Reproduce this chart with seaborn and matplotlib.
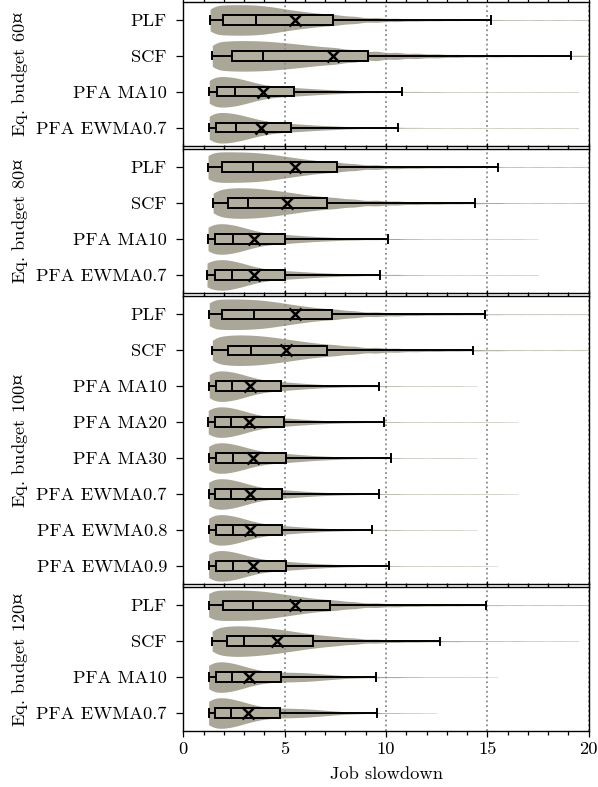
import numpy as np
import pandas as pd
import matplotlib
matplotlib.use("Agg")
import matplotlib.pyplot as plt
import seaborn as sns
from matplotlib.ticker import MultipleLocator

# ---------------- data ----------------
BUDGETS = ["Eq. budget 60$\\mathrm{¤}$", "Eq. budget 80$\\mathrm{¤}$",
           "Eq. budget 100$\\mathrm{¤}$", "Eq. budget 120$\\mathrm{¤}$"]
CATS_SMALL = ["PLF", "SCF", "PFA MA10", "PFA EWMA0.7"]
CATS_100 = ["PLF", "SCF", "PFA MA10", "PFA MA20", "PFA MA30",
            "PFA EWMA0.7", "PFA EWMA0.8", "PFA EWMA0.9"]
PANEL_CATS = [CATS_SMALL, CATS_SMALL, CATS_100, CATS_SMALL]

# box statistics, rows in panel order (60, 80, 100, 120)
WHIS_LO = [1.32, 1.43, 1.28, 1.28,
           1.22, 1.47, 1.22, 1.17,
           1.28, 1.43, 1.28, 1.23, 1.25, 1.25, 1.25, 1.25,
           1.25, 1.42, 1.25, 1.25]
Q1 = [1.97, 2.42, 1.68, 1.60,
      1.90, 2.19, 1.57, 1.55,
      1.89, 2.19, 1.61, 1.58, 1.61, 1.58, 1.60, 1.61,
      1.94, 2.14, 1.60, 1.56]
MEDIAN = [3.59, 3.95, 2.55, 2.58,
          3.42, 3.20, 2.43, 2.41,
          3.49, 3.32, 2.42, 2.34, 2.45, 2.37, 2.44, 2.44,
          3.42, 2.99, 2.39, 2.34]
Q3 = [7.40, 9.13, 5.44, 5.31,
      7.59, 7.10, 5.03, 5.03,
      7.32, 7.11, 4.84, 4.95, 5.07, 4.87, 4.85, 5.07,
      7.24, 6.41, 4.82, 4.79]
WHIS_HI = [15.20, 19.13, 10.79, 10.61,
           15.54, 14.41, 10.10, 9.70,
           14.88, 14.31, 9.65, 9.88, 10.23, 9.67, 9.29, 10.16,
           14.93, 12.68, 9.51, 9.56]
MEAN = [5.53, 7.37, 3.93, 3.82,
        5.51, 5.10, 3.47, 3.47,
        5.51, 5.07, 3.31, 3.26, 3.44, 3.27, 3.27, 3.44,
        5.53, 4.62, 3.25, 3.21]

# violin width profile (relative job density) read at these slowdown values;
# the first point of every profile sits at that row's minimum (WHIS_LO)
VIOLIN_X = [1.75, 2.25, 2.75, 3.25, 3.75, 4.25, 4.75, 5.25, 5.75, 6.25, 6.75,
            7.25, 7.75, 8.5, 9.5, 10.5, 11.5, 12.5, 13.5, 14.5, 15.5, 16.5,
            17.5, 18.5, 19.5, 20.5, 21.5]
VIOLIN_W = [
    # budget 60
    [95, 100, 100, 100, 100, 96, 89, 78, 67, 58, 50, 43, 36, 30, 22, 14, 10, 7, 5, 4, 3, 2.5, 2, 2, 2, 2, 2, 2],
    [100, 100, 100, 100, 100, 98, 95, 89, 83, 76, 69, 62, 55, 48, 38, 28, 21, 16, 12, 9, 7, 6, 5, 4.5, 4, 4, 4, 4],
    [95, 100, 97, 85, 68, 50, 38, 32, 29, 25, 21, 17, 13, 10, 7, 5, 3, 2.5, 2, 1.5, 1.5, 1.5, 1.5, 1.5, 1.5, 1.5, 0, 0],
    [95, 100, 96, 84, 67, 50, 38, 31, 27, 23, 19, 15, 12, 9, 6, 4, 3, 2, 1.5, 1.5, 1.5, 1.5, 1.5, 1.5, 1.5, 1.5, 0, 0],
    # budget 80
    [100, 100, 100, 100, 98, 94, 87, 77, 67, 57, 48, 41, 35, 29, 21, 14, 10, 7, 5, 4, 3, 2.5, 2, 2, 2, 2, 2, 2],
    [90, 97, 100, 100, 99, 95, 88, 79, 70, 60, 51, 44, 37, 31, 24, 17, 12, 9, 7, 5, 4, 3, 2, 2, 2, 2, 2, 2],
    [95, 100, 95, 82, 62, 45, 36, 31, 27, 22, 18, 14, 11, 8, 6, 4, 3, 2, 1.5, 1.5, 1.5, 1.5, 1.5, 1, 0, 0, 0, 0],
    [95, 100, 95, 82, 62, 45, 35, 30, 26, 22, 18, 14, 11, 8, 6, 4, 3, 2, 1.5, 1.5, 1.5, 1.5, 1.5, 1.5, 0, 0, 0, 0],
    # budget 100
    [100, 100, 100, 100, 98, 94, 87, 77, 67, 57, 48, 41, 35, 29, 21, 14, 10, 7, 5, 4, 3, 2.5, 2, 2, 2, 2, 2, 2],
    [90, 97, 100, 100, 99, 95, 88, 79, 70, 60, 51, 44, 37, 31, 24, 17, 12, 9, 7, 5, 4, 3, 2, 2, 2, 2, 2, 2],
    [95, 100, 95, 80, 60, 43, 34, 29, 24, 19, 15, 11, 8, 6, 4, 3, 2, 1.5, 1.5, 1.5, 1, 0, 0, 0, 0, 0, 0, 0],
    [95, 100, 95, 80, 60, 43, 34, 29, 24, 19, 15, 11, 8, 6, 4, 3, 2, 1.5, 1.5, 1.5, 1.5, 1.5, 1, 0, 0, 0, 0, 0],
    [95, 100, 95, 80, 61, 45, 36, 31, 27, 22, 17, 13, 10, 7, 5, 3, 2, 1.5, 1.5, 1.5, 1, 0, 0, 0, 0, 0, 0, 0],
    [95, 100, 95, 80, 60, 43, 34, 29, 24, 19, 15, 11, 8, 6, 4, 3, 2, 1.5, 1.5, 1.5, 1.5, 1.5, 1, 0, 0, 0, 0, 0],
    [95, 100, 95, 80, 60, 43, 34, 29, 24, 19, 15, 11, 8, 6, 4, 3, 2, 1.5, 1.5, 1.5, 1, 0, 0, 0, 0, 0, 0, 0],
    [95, 100, 95, 80, 61, 45, 36, 31, 27, 22, 17, 13, 10, 7, 5, 3, 2, 1.5, 1.5, 1.5, 1.5, 1, 0, 0, 0, 0, 0, 0],
    # budget 120
    [100, 100, 100, 100, 98, 94, 87, 77, 67, 57, 48, 41, 35, 29, 21, 14, 10, 7, 5, 4, 3, 2.5, 2, 2, 2, 2, 2, 2],
    [88, 96, 100, 100, 97, 92, 85, 77, 67, 57, 48, 40, 32, 26, 19, 12, 8, 6, 4, 3, 2.5, 2, 2, 1.5, 1.5, 1.5, 0, 0],
    [95, 100, 94, 78, 58, 42, 34, 31, 30, 29, 26, 21, 15, 10, 6, 4, 3, 2, 1.5, 1.5, 1.5, 1, 0, 0, 0, 0, 0, 0],
    [95, 100, 94, 78, 58, 42, 34, 31, 30, 28, 25, 20, 14, 9, 5, 3, 2, 1.5, 1, 0, 0, 0, 0, 0, 0, 0, 0, 0],
]

# ---------------- style ----------------
FONT = ["cmr10", "DejaVu Serif"]
plt.rcParams["font.family"] = FONT
plt.rcParams["mathtext.fontset"] = "custom"
plt.rcParams["mathtext.rm"] = "DejaVu Serif"
plt.rcParams["axes.formatter.use_mathtext"] = False
plt.rcParams["axes.unicode_minus"] = False
FS = 13.3
VIOLIN_C = "#aaa798"
BOX_C = "#b2afa0"
BW = 0.4

# ---------------- build samples ----------------
frames = []
k = 0
for p, cats in enumerate(PANEL_CATS):
    for c in cats:
        xs = np.array([WHIS_LO[k]] + VIOLIN_X)
        w = np.array(VIOLIN_W[k], float)
        d = np.empty_like(xs)
        d[0] = xs[1] - xs[0]
        d[1:-1] = (xs[2:] - xs[:-2]) / 2
        d[-1] = xs[-1] - xs[-2]
        n = np.round(w * d / 0.5 * 4).astype(int)
        frames.append(pd.DataFrame({"panel": p, "cat": c, "slowdown": np.repeat(xs, n)}))
        k += 1
df = pd.concat(frames, ignore_index=True)

# ---------------- figure ----------------
fig = plt.figure(figsize=(5.98, 7.87), dpi=100)
gs = fig.add_gridspec(4, 1, height_ratios=[4, 4, 8, 4], hspace=0.019,
                      left=0.3065, right=0.9845, top=0.9975, bottom=0.0712)
axes = []
k = 0
for p, cats in enumerate(PANEL_CATS):
    ax = fig.add_subplot(gs[p], sharex=axes[0] if axes else None)
    axes.append(ax)
    sub = df[df["panel"] == p]
    sns.violinplot(data=sub, x="slowdown", y="cat", order=cats, orient="y",
                   color=VIOLIN_C, saturation=1, inner=None, cut=0,
                   density_norm="width", width=0.85, linewidth=0,
                   linecolor=VIOLIN_C, gridsize=600,
                   bw_method=lambda kd: BW / np.std(kd.dataset, ddof=1), ax=ax)
    stats = []
    for i in range(len(cats)):
        stats.append(dict(whislo=WHIS_LO[k + i], q1=Q1[k + i], med=MEDIAN[k + i],
                          q3=Q3[k + i], whishi=WHIS_HI[k + i], mean=MEAN[k + i],
                          fliers=[]))
    k += len(cats)
    lw = 1.4
    ax.bxp(stats, positions=list(range(len(cats))), orientation="horizontal",
           widths=0.26, capwidths=0.2, patch_artist=True, showmeans=True,
           showfliers=False, manage_ticks=False,
           boxprops=dict(facecolor=BOX_C, edgecolor="black", linewidth=lw),
           whiskerprops=dict(color="black", linewidth=lw),
           capprops=dict(color="black", linewidth=lw),
           medianprops=dict(color="black", linewidth=lw),
           meanprops=dict(marker="x", markeredgecolor="black",
                          markersize=8, markeredgewidth=1.8))
    ax.set_xlim(0, 20)
    ax.set_ylim(len(cats) - 0.5, -0.5)
    ax.xaxis.set_major_locator(MultipleLocator(5))
    ax.xaxis.set_minor_locator(MultipleLocator(1))
    ax.grid(axis="x", which="major", linestyle=":", color="#8a8a8a", linewidth=1.3)
    ax.tick_params(axis="x", which="both", direction="out", top=True, bottom=True,
                   labelbottom=(p == 3), labelsize=FS, width=0.9)
    ax.tick_params(axis="x", which="major", length=4)
    ax.tick_params(axis="x", which="minor", length=2.8)
    ax.tick_params(axis="y", length=4.8, width=0.9, labelsize=FS, pad=7, right=False)
    for s in ax.spines.values():
        s.set_linewidth(1.0)
    ax.set_ylabel(BUDGETS[p], fontsize=FS)
    ax.yaxis.set_label_coords(-0.378, 0.5)
    if p == 3:
        ax.set_xlabel("Job slowdown", fontsize=FS, labelpad=7)
    else:
        ax.set_xlabel("")

fig.savefig("out.png", dpi=100)
